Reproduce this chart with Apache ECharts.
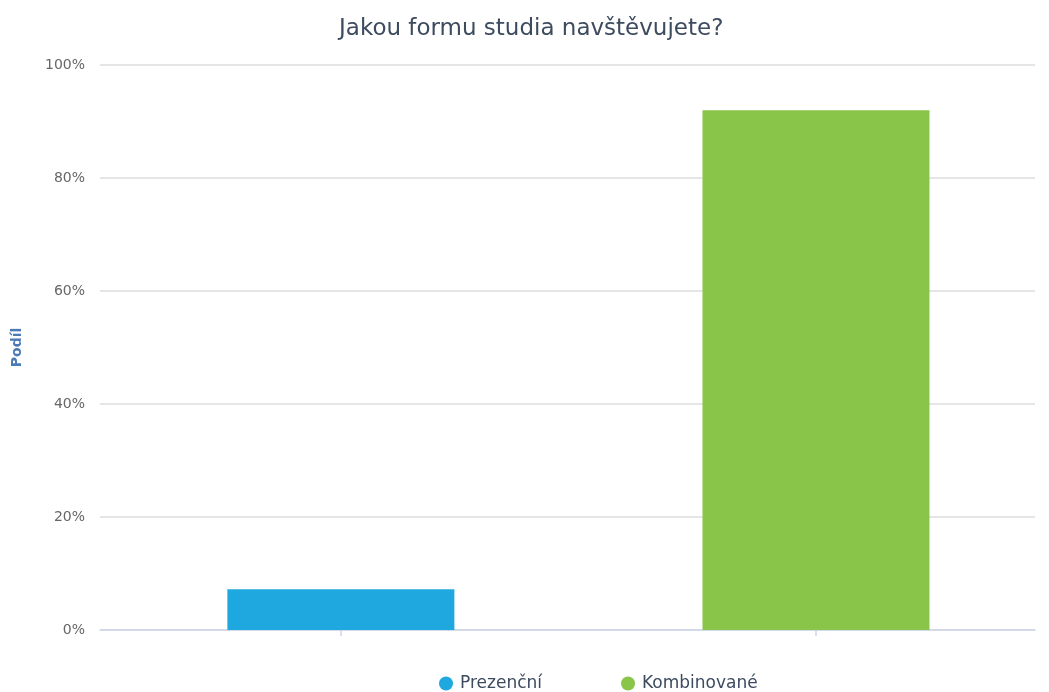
<!DOCTYPE html>
<html>
<head>
<meta charset="utf-8">
<style>
  html, body { margin: 0; padding: 0; background: #fff; }
  #chart { width: 1049px; height: 692px; }
</style>
<script src="https://cdn.jsdelivr.net/npm/echarts@6/dist/echarts.min.js"></script>
</head>
<body>
<div id="chart"></div>
<script>
// Survey answers: study form and share of respondents (%)
const categories = ['Prezenční', 'Kombinované'];
const shares = [7.2, 92.0];
const colors = ['#1fa8e0', '#88c549'];
const yTicks = [0, 20, 40, 60, 80, 100];

const chart = echarts.init(document.getElementById('chart'));

const series = categories.map((name, i) => ({
  name: name,
  type: 'bar',
  barWidth: 227,
  barGap: '-100%',
  data: [[i, shares[i]]],
  itemStyle: { color: colors[i] },
  emphasis: { disabled: true }
}));

chart.setOption({
  animation: false,
  title: {
    text: 'Jakou formu studia navštěvujete?',
    left: 334,
    top: 13,
    textStyle: {
      fontFamily: 'DejaVu Sans',
      fontSize: 23,
      fontWeight: 'normal',
      color: '#3d4b5f'
    }
  },
  legend: {
    data: categories.map((name) => ({ name: name, icon: 'circle' })),
    bottom: 0,
    left: 439,
    padding: 0,
    itemWidth: 14,
    itemHeight: 14,
    itemGap: 79,
    textStyle: {
      fontFamily: 'DejaVu Sans',
      fontSize: 17,
      color: '#3d4b5f',
      padding: [0, 0, 0, 2]
    }
  },
  grid: { left: 100, right: 14, top: 65, bottom: 62, containLabel: false },
  xAxis: {
    type: 'value',
    min: -0.507,
    max: 1.461,
    splitLine: { show: false },
    axisLine: { show: true, onZero: false, lineStyle: { color: '#ccd6eb', width: 1.5 } },
    axisTick: { show: true, customValues: [0, 1], length: 6, lineStyle: { color: '#ccd6eb', width: 1.5 } },
    axisLabel: { show: false }
  },
  yAxis: {
    type: 'value',
    min: yTicks[0],
    max: yTicks[yTicks.length - 1],
    interval: 20,
    name: 'Podíl',
    nameLocation: 'middle',
    nameGap: 76,
    nameRotate: 90,
    nameTextStyle: {
      fontFamily: 'DejaVu Sans',
      fontSize: 14,
      fontWeight: 'bold',
      color: '#4a7bb5'
    },
    axisLine: { show: false },
    axisTick: { show: false },
    axisLabel: {
      formatter: '{value}%',
      margin: 15,
      fontFamily: 'DejaVu Sans',
      fontSize: 14,
      color: '#666666'
    },
    splitLine: { lineStyle: { color: '#dcdcdc', width: 1.5 } }
  },
  series: series
});
</script>
</body>
</html>
